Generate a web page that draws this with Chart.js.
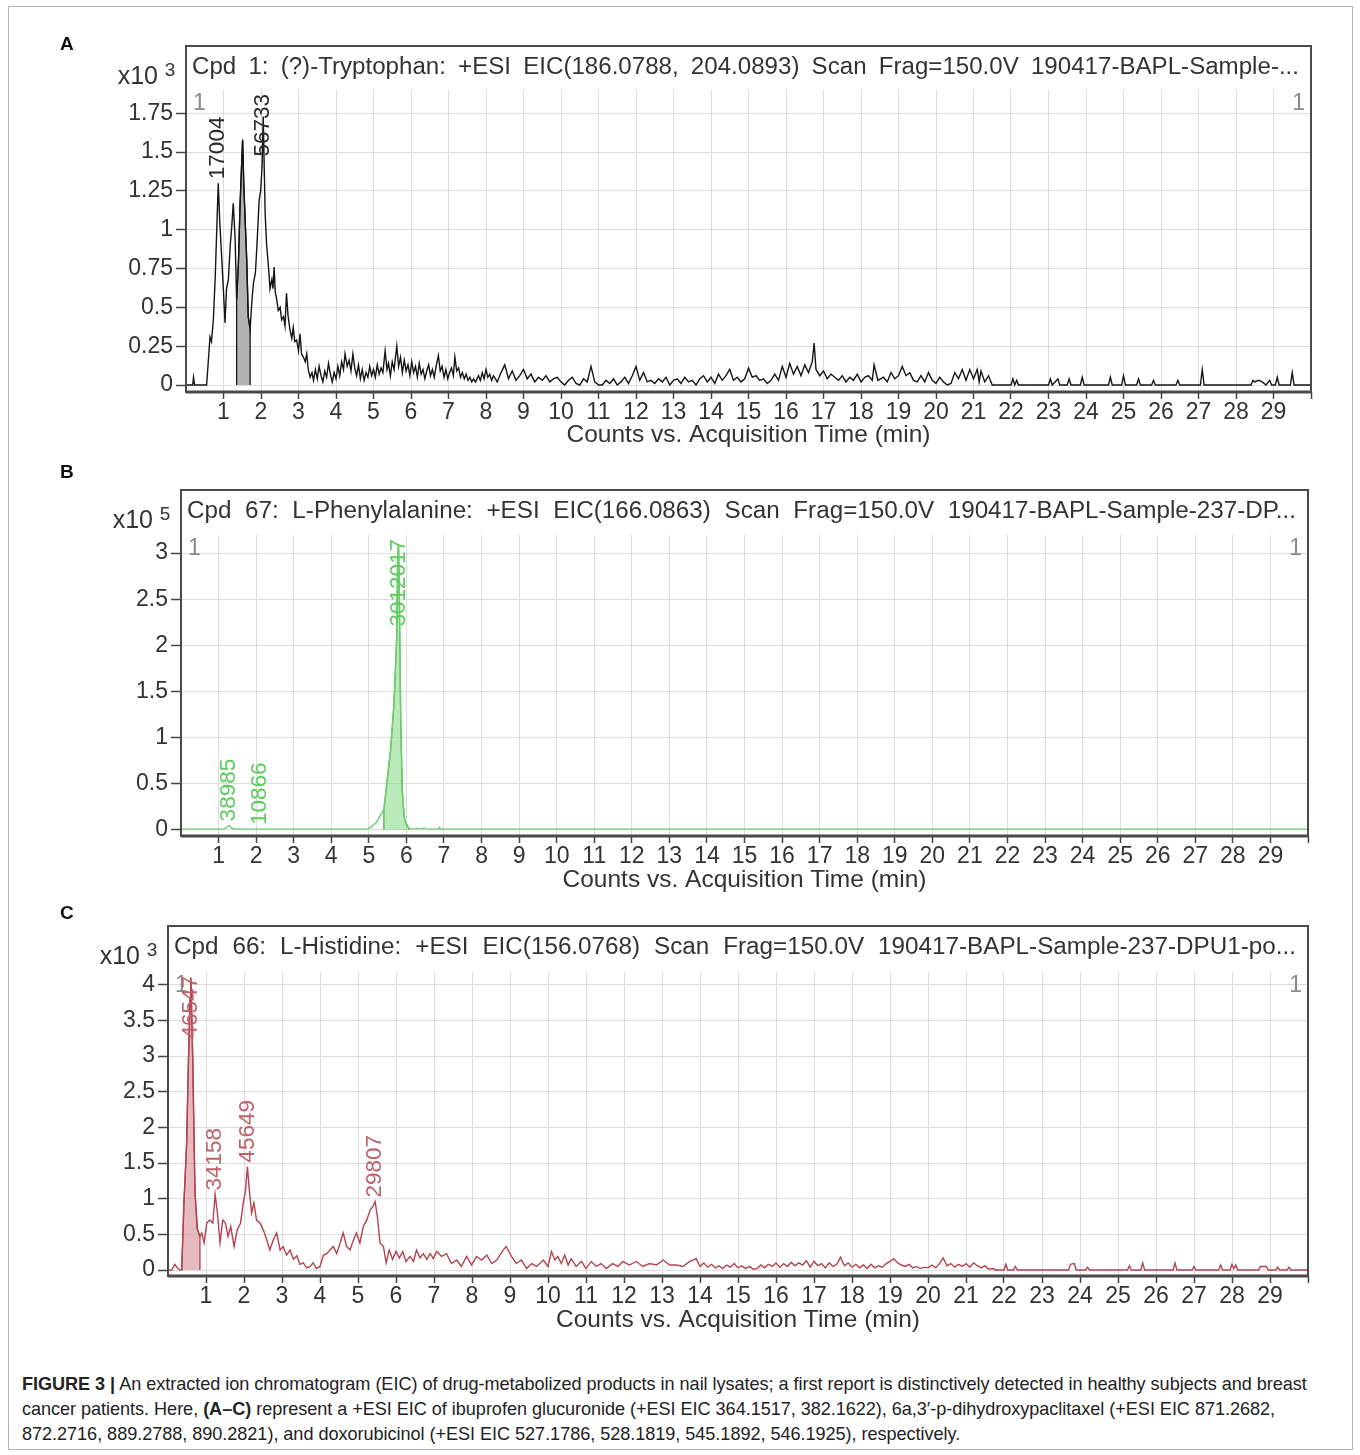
<!DOCTYPE html>
<html>
<head>
<meta charset="utf-8">
<script src="https://cdn.jsdelivr.net/npm/chart.js@4.4.1/dist/chart.umd.min.js"></script>
<style>
body { margin:0; background:#fff; width:1360px; height:1455px; position:relative; overflow:hidden; font-family:"Liberation Sans", Arial, sans-serif; }
#frame { position:absolute; left:8px; top:6px; width:1343px; height:1442px; border:1px solid #b4b4b4; }
canvas { position:absolute; left:0; }
.lbl { position:absolute; font-weight:bold; font-size:19px; color:#111; }
.cap { position:absolute; left:22px; font-size:18.1px; color:#222; white-space:nowrap; letter-spacing:-0.04px; }
</style>
</head>
<body>
<div id="frame"></div>
<canvas id="cA" width="1360" height="455" style="top:0px"></canvas>
<canvas id="cB" width="1360" height="450" style="top:450px"></canvas>
<canvas id="cC" width="1360" height="450" style="top:890px"></canvas>
<div class="lbl" style="left:60px;top:33px">A</div>
<div class="lbl" style="left:60px;top:461px">B</div>
<div class="lbl" style="left:60px;top:902px">C</div>
<div class="cap" style="top:1374px"><b>FIGURE 3 |</b> An extracted ion chromatogram (EIC) of drug-metabolized products in nail lysates; a first report is distinctively detected in healthy subjects and breast</div>
<div class="cap" style="top:1399px">cancer patients. Here, <b>(A–C)</b> represent a +ESI EIC of ibuprofen glucuronide (+ESI EIC 364.1517, 382.1622), 6a,3′-p-dihydroxypaclitaxel (+ESI EIC 871.2682,</div>
<div class="cap" style="top:1424px">872.2716, 889.2788, 890.2821), and doxorubicinol (+ESI EIC 527.1786, 528.1819, 545.1892, 546.1925), respectively.</div>
<script>
const FONT = '"Liberation Sans", Arial, sans-serif';

// x axis ticks (acquisition time, min)
const xTicks = [1,2,3,4,5,6,7,8,9,10,11,12,13,14,15,16,17,18,19,20,21,22,23,24,25,26,27,28,29,30];

// A: tryptophan, counts x10^3, [time, counts]
const titleA = 'Cpd 1: (?)-Tryptophan: +ESI EIC(186.0788, 204.0893) Scan Frag=150.0V 190417-BAPL-Sample-...';
const yTicksA = [0,0.25,0.5,0.75,1,1.25,1.5,1.75];
const traceA = [
  [0,0],[0.18,0],[0.2,0.05],[0.23,0],[0.55,0],[0.64,0.31],[0.68,0.28],[0.73,0.42],[0.78,0.7],[0.82,1.0],
  [0.86,1.3],[0.9,1.05],[0.95,0.83],[1.0,0.6],[1.04,0.4],[1.08,0.62],[1.13,0.68],[1.18,0.9],[1.22,1.02],[1.26,1.17],
  [1.31,0.94],[1.35,0.55],[1.4,0.8],[1.44,1.15],[1.48,1.4],[1.51,1.58],[1.54,1.3],[1.57,1.11],[1.62,0.8],[1.66,0.44],
  [1.71,0.36],[1.76,0.55],[1.8,0.66],[1.85,0.72],[1.89,0.89],[1.95,1.19],[1.99,1.25],[2.03,1.41],[2.06,1.73],[2.09,1.35],
  [2.11,1.11],[2.15,0.9],[2.2,0.76],[2.24,0.62],[2.29,0.68],[2.32,0.62],[2.35,0.76],[2.38,0.6],[2.42,0.55],[2.46,0.48],
  [2.51,0.5],[2.55,0.42],[2.6,0.44],[2.64,0.38],[2.68,0.59],[2.72,0.45],[2.77,0.36],[2.82,0.3],[2.86,0.37],[2.9,0.28],
  [2.95,0.29],[3.0,0.22],[3.04,0.33],[3.08,0.2],[3.13,0.18],[3.18,0.15],[3.22,0.2],[3.26,0.1],[3.31,0.05],[3.36,0.08],
  [3.4,0.03],[3.45,0.1],[3.5,0.04],[3.55,0.12],[3.6,0.06],[3.65,0.02],[3.7,0.09],[3.75,0.05],[3.8,0.14],[3.85,0.07],
  [3.9,0.02],[3.95,0.08],[4.0,0.04],[4.05,0.12],[4.1,0.06],[4.15,0.15],[4.2,0.1],[4.24,0.2],[4.3,0.12],[4.35,0.16],
  [4.4,0.09],[4.45,0.2],[4.5,0.11],[4.55,0.06],[4.6,0.13],[4.65,0.04],[4.7,0.1],[4.75,0.03],[4.8,0.08],[4.85,0.05],
  [4.9,0.12],[4.95,0.06],[5.0,0.1],[5.05,0.05],[5.1,0.13],[5.15,0.07],[5.2,0.11],[5.25,0.08],[5.31,0.22],[5.36,0.1],
  [5.4,0.14],[5.45,0.06],[5.5,0.15],[5.55,0.1],[5.62,0.25],[5.67,0.12],[5.72,0.18],[5.77,0.08],[5.82,0.16],[5.87,0.09],
  [5.92,0.13],[5.97,0.06],[6.02,0.15],[6.07,0.08],[6.12,0.12],[6.17,0.05],[6.22,0.14],[6.27,0.07],[6.32,0.1],[6.37,0.04],
  [6.42,0.09],[6.47,0.13],[6.52,0.06],[6.57,0.1],[6.62,0.05],[6.67,0.12],[6.73,0.19],[6.78,0.09],[6.83,0.12],[6.88,0.05],
  [6.93,0.1],[6.98,0.04],[7.03,0.08],[7.08,0.11],[7.13,0.06],[7.17,0.18],[7.22,0.09],[7.27,0.11],[7.32,0.05],[7.37,0.08],
  [7.42,0.04],[7.47,0.07],[7.52,0.03],[7.57,0.05],[7.62,0.02],[7.67,0.04],[7.72,0.02],[7.8,0.06],[7.85,0.03],[7.9,0.08],
  [7.95,0.04],[8.0,0.1],[8.05,0.05],[8.1,0.07],[8.15,0.03],[8.2,0.06],[8.3,0.02],[8.4,0.08],[8.5,0.13],[8.6,0.04],
  [8.7,0.09],[8.8,0.03],[8.9,0.06],[9.0,0.1],[9.1,0.04],[9.2,0.07],[9.3,0.02],[9.4,0.05],[9.5,0.03],[9.6,0.06],
  [9.7,0.02],[9.8,0.04],[9.9,0.05],[10.0,0.02],[10.1,0.0],[10.2,0.03],[10.3,0.05],[10.4,0.01],[10.5,0.0],[10.6,0.04],
  [10.7,0.02],[10.8,0.12],[10.9,0.02],[11.0,0.0],[11.1,0.0],[11.2,0.03],[11.3,0.01],[11.4,0.04],[11.5,0.0],[11.6,0.02],
  [11.7,0.05],[11.8,0.01],[11.9,0.06],[12.0,0.12],[12.1,0.03],[12.2,0.08],[12.3,0.02],[12.4,0.03],[12.5,0.01],[12.6,0.04],
  [12.7,0.02],[12.8,0.05],[12.9,0.0],[13.0,0.03],[13.1,0.04],[13.2,0.01],[13.3,0.05],[13.4,0.02],[13.5,0.03],[13.6,0.0],
  [13.7,0.04],[13.8,0.06],[13.9,0.02],[14.0,0.05],[14.1,0.01],[14.2,0.07],[14.3,0.03],[14.4,0.06],[14.5,0.1],[14.6,0.03],
  [14.7,0.05],[14.8,0.02],[14.9,0.04],[15.0,0.11],[15.1,0.05],[15.2,0.06],[15.3,0.03],[15.4,0.04],[15.5,0.01],[15.6,0.03],
  [15.7,0.07],[15.8,0.03],[15.9,0.12],[16.0,0.05],[16.1,0.14],[16.2,0.07],[16.3,0.12],[16.4,0.06],[16.5,0.13],[16.6,0.08],
  [16.7,0.15],[16.75,0.27],[16.8,0.1],[16.9,0.06],[17.0,0.09],[17.1,0.04],[17.2,0.07],[17.3,0.05],[17.4,0.03],[17.5,0.06],
  [17.6,0.02],[17.7,0.05],[17.8,0.03],[17.9,0.07],[18.0,0.02],[18.1,0.05],[18.2,0.06],[18.3,0.03],[18.35,0.13],[18.45,0.03],
  [18.6,0.05],[18.7,0.02],[18.8,0.08],[18.9,0.04],[19.0,0.06],[19.1,0.12],[19.2,0.06],[19.3,0.08],[19.4,0.03],[19.5,0.02],
  [19.6,0.06],[19.7,0.02],[19.8,0.08],[19.9,0.03],[20.0,0.01],[20.1,0.05],[20.2,0.02],[20.3,0.0],[20.4,0.01],[20.5,0.08],
  [20.6,0.04],[20.7,0.1],[20.8,0.03],[20.9,0.1],[21.0,0.04],[21.1,0.1],[21.15,0.02],[21.2,0.09],[21.3,0.02],[21.4,0.06],
  [21.5,0.0],[22.0,0.0],[22.05,0.04],[22.1,0.0],[22.15,0.03],[22.2,0.0],[23.0,0.0],[23.05,0.04],[23.1,0.0],[23.25,0.04],
  [23.3,0.0],[23.5,0.0],[23.55,0.04],[23.6,0.0],[23.85,0.0],[23.9,0.05],[23.95,0.0],[24.6,0.0],[24.65,0.05],[24.7,0.0],
  [24.95,0.0],[25.0,0.06],[25.05,0.0],[25.35,0.0],[25.4,0.04],[25.45,0.0],[25.75,0.0],[25.8,0.03],[25.85,0.0],[26.4,0.0],
  [26.45,0.03],[26.5,0.0],[27.05,0.0],[27.1,0.1],[27.15,0.0],[28.4,0.0],[28.45,0.03],[28.5,0.02],[28.6,0.03],[28.7,0.02],
  [28.8,0.0],[28.9,0.03],[28.95,0.0],[29.05,0.0],[29.1,0.05],[29.15,0.0],[29.45,0.0],[29.5,0.08],[29.55,0.0],[30,0.0]
];
const integA = [1.35, 1.71];
const peakTimesA = [0.86, 2.06];
const peakHeightsA = [1.3, 1.73];
const peakLabelsA = ['17004', '56733'];

// B: phenylalanine, counts x10^5
const titleB = 'Cpd 67: L-Phenylalanine: +ESI EIC(166.0863) Scan Frag=150.0V 190417-BAPL-Sample-237-DP...';
const yTicksB = [0,0.5,1,1.5,2,2.5,3];
const traceB = [
  [0,0.01],[1.15,0.01],[1.22,0.03],[1.28,0.05],[1.34,0.02],[1.45,0.01],[4.95,0.01],[5.05,0.03],[5.2,0.08],[5.31,0.16],
  [5.4,0.22],[5.49,0.54],[5.58,0.87],[5.67,1.37],[5.74,2.06],[5.77,3.0],[5.79,3.08],[5.81,2.6],[5.85,1.16],[5.89,0.43],
  [5.94,0.15],[5.98,0.08],[6.06,0.02],[6.2,0.01],[6.3,0.02],[6.38,0.01],[6.48,0.02],[6.56,0.01],[6.85,0.01],[6.88,0.03],
  [6.92,0.01],[30,0.01]
];
const integB = [5.4, 6.06];
const peakTimesB = [1.28, 2.1, 5.79];
const peakHeightsB = [0.05, 0.01, 3.08];
const peakLabelsB = ['38985', '10866', '3012017'];

// C: histidine, counts x10^3
const titleC = 'Cpd 66: L-Histidine: +ESI EIC(156.0768) Scan Frag=150.0V 190417-BAPL-Sample-237-DPU1-po...';
const yTicksC = [0,0.5,1,1.5,2,2.5,3,3.5,4];
const traceC = [
  [0,0],[0.1,0],[0.18,0.08],[0.26,0.02],[0.32,0],[0.36,0],[0.42,0.95],[0.49,1.77],[0.54,2.98],[0.58,3.8],
  [0.6,4.1],[0.62,3.7],[0.65,2.98],[0.71,1.1],[0.77,0.58],[0.84,0.47],[0.89,0.52],[0.95,0.38],[1.02,0.66],[1.1,0.7],
  [1.18,0.66],[1.24,1.06],[1.3,0.8],[1.37,0.38],[1.44,0.7],[1.51,0.66],[1.58,0.47],[1.65,0.61],[1.74,0.33],[1.82,0.56],
  [1.91,0.66],[1.98,0.94],[2.04,1.12],[2.09,1.45],[2.14,1.12],[2.2,0.8],[2.26,0.94],[2.33,0.7],[2.42,0.66],[2.51,0.56],
  [2.6,0.42],[2.68,0.28],[2.77,0.42],[2.86,0.52],[2.95,0.28],[3.03,0.33],[3.12,0.21],[3.21,0.28],[3.3,0.15],[3.39,0.2],
  [3.47,0.08],[3.56,0.1],[3.65,0.03],[3.74,0.05],[3.82,0.1],[3.91,0.02],[4.0,0.05],[4.09,0.21],[4.18,0.23],[4.26,0.28],
  [4.35,0.33],[4.44,0.23],[4.53,0.38],[4.61,0.52],[4.7,0.33],[4.79,0.28],[4.88,0.42],[4.96,0.52],[5.05,0.38],[5.14,0.61],
  [5.23,0.7],[5.32,0.84],[5.39,0.89],[5.45,0.96],[5.51,0.75],[5.58,0.38],[5.67,0.33],[5.74,0.1],[5.82,0.28],[5.91,0.15],
  [6.0,0.26],[6.09,0.17],[6.18,0.26],[6.26,0.12],[6.37,0.19],[6.46,0.12],[6.54,0.28],[6.63,0.17],[6.72,0.23],[6.81,0.15],
  [6.9,0.23],[6.98,0.16],[7.07,0.26],[7.2,0.19],[7.33,0.23],[7.46,0.09],[7.6,0.14],[7.72,0.05],[7.86,0.19],[7.99,0.07],
  [8.12,0.19],[8.25,0.14],[8.39,0.21],[8.52,0.09],[8.65,0.14],[8.82,0.28],[8.9,0.33],[9.04,0.19],[9.17,0.09],[9.3,0.14],
  [9.44,0.02],[9.57,0.09],[9.7,0.05],[9.88,0.14],[10.0,0.05],[10.09,0.26],[10.18,0.14],[10.26,0.19],[10.35,0.09],[10.44,0.21],
  [10.53,0.07],[10.61,0.16],[10.74,0.05],[10.88,0.12],[11.0,0.02],[11.14,0.12],[11.27,0.05],[11.4,0.09],[11.53,0.02],[11.7,0.09],
  [11.84,0.05],[11.97,0.12],[12.14,0.07],[12.32,0.12],[12.5,0.05],[12.67,0.09],[12.85,0.07],[13.03,0.14],[13.2,0.07],[13.38,0.07],
  [13.55,0.05],[13.73,0.12],[13.9,0.16],[14.0,0.05],[14.1,0.1],[14.2,0.04],[14.3,0.08],[14.4,0.03],[14.5,0.06],[14.6,0.02],
  [14.7,0.07],[14.8,0.04],[14.9,0.09],[15.0,0.03],[15.1,0.06],[15.2,0.02],[15.3,0.05],[15.4,0.01],[15.5,0.02],[15.6,0.07],
  [15.7,0.03],[15.8,0.08],[15.9,0.05],[16.0,0.1],[16.1,0.04],[16.2,0.09],[16.3,0.05],[16.4,0.11],[16.5,0.06],[16.6,0.1],
  [16.7,0.07],[16.8,0.13],[16.9,0.04],[17.0,0.12],[17.1,0.06],[17.2,0.09],[17.3,0.03],[17.4,0.1],[17.5,0.05],[17.6,0.08],
  [17.7,0.18],[17.8,0.06],[17.9,0.1],[18.0,0.04],[18.1,0.08],[18.2,0.03],[18.3,0.07],[18.4,0.02],[18.5,0.08],[18.6,0.03],
  [18.7,0.06],[18.8,0.04],[18.9,0.09],[19.0,0.12],[19.1,0.16],[19.2,0.1],[19.3,0.07],[19.4,0.05],[19.5,0.08],[19.6,0.03],
  [19.7,0.05],[19.8,0.02],[19.9,0.04],[20.0,0.03],[20.1,0.07],[20.2,0.03],[20.3,0.09],[20.4,0.17],[20.5,0.06],[20.6,0.09],
  [20.7,0.04],[20.8,0.08],[20.9,0.05],[21.0,0.09],[21.1,0.04],[21.2,0.1],[21.3,0.06],[21.4,0.03],[21.5,0.06],[21.6,0.01],
  [21.7,0.02],[21.8,0.0],[22.0,0.0],[22.05,0.08],[22.1,0.0],[22.25,0.0],[22.3,0.05],[22.35,0.0],[23.7,0.0],[23.75,0.08],
  [23.85,0.09],[23.9,0.0],[24.15,0.0],[24.2,0.04],[24.25,0.0],[25.25,0.0],[25.3,0.06],[25.35,0.0],[25.6,0.0],[25.65,0.1],
  [25.7,0.0],[26.45,0.0],[26.5,0.1],[26.55,0.0],[26.95,0.0],[27.0,0.05],[27.05,0.0],[27.65,0.0],[27.7,0.07],[27.75,0.0],
  [27.95,0.0],[28.0,0.08],[28.05,0.02],[28.1,0.07],[28.15,0.0],[28.7,0.0],[28.75,0.05],[28.9,0.05],[28.95,0.0],[29.15,0.0],
  [29.2,0.04],[29.25,0.0],[29.45,0.0],[29.5,0.04],[29.55,0.0],[30,0.0]
];
const integC = [0.36, 0.84];
const peakTimesC = [0.6, 1.24, 2.09, 5.45];
const peakHeightsC = [4.1, 1.06, 1.45, 0.96];
const peakLabelsC = ['46547', '34158', '45649', '29807'];

function panel(id, o) {
  const pts = o.trace.map(p => ({x: p[0], y: p[1]}));
  const inner = pts.filter(p => p.x >= o.integ[0] && p.x <= o.integ[1]);
  const areaPts = [{x: o.integ[0], y: 0}].concat(inner, [{x: o.integ[1], y: 0}]);

  const decor = {
    id: 'decor',
    afterDraw(chart) {
      const ctx = chart.ctx, a = chart.chartArea;
      const xs = chart.scales.x, ys = chart.scales.y;
      const frameTop = a.top - o.strip;
      ctx.save();
      // title strip text: a little extra word spacing, the rest by stretching
      ctx.font = '23px ' + FONT;
      ctx.fillStyle = '#333';
      ctx.textBaseline = 'middle';
      ctx.textAlign = 'left';
      const target = a.right - a.left - 18;
      let w = ctx.measureText(o.title).width;
      const spaces = o.title.split(' ').length - 1;
      if ('wordSpacing' in ctx && w < target) {
        ctx.wordSpacing = (0.45 * (target - w) / spaces) + 'px';
        w = ctx.measureText(o.title).width;
      }
      ctx.save();
      ctx.translate(a.left + 6, frameTop + 22);
      ctx.scale(target / w, 1);
      ctx.fillText(o.title, 0, 0);
      ctx.restore();
      if ('wordSpacing' in ctx) ctx.wordSpacing = '0px';

      // frame
      ctx.strokeStyle = '#4a4a4a';
      ctx.lineWidth = 2;
      ctx.strokeRect(a.left, frameTop, a.right - a.left, a.bottom - frameTop);
      ctx.lineWidth = 3;
      ctx.beginPath();
      ctx.moveTo(a.left, a.bottom);
      ctx.lineTo(a.right + 1, a.bottom);
      ctx.stroke();

      // exponent
      ctx.fillStyle = '#333';
      ctx.textAlign = 'right';
      ctx.font = '25px ' + FONT;
      ctx.fillText('x10', a.left - 28, frameTop + 31);
      ctx.textAlign = 'center';
      ctx.font = '19px ' + FONT;
      ctx.fillText(String(o.exp), a.left - 16, frameTop + 25);

      // "1" markers
      ctx.fillStyle = '#8a8a8a';
      ctx.font = '23px ' + FONT;
      ctx.textAlign = 'left';
      ctx.fillText('1', a.left + 7, a.top + 14);
      ctx.textAlign = 'right';
      ctx.fillText('1', a.right - 6, a.top + 14);

      // peak labels, read upwards from just above the apex, kept inside the plot
      ctx.fillStyle = o.labelColor;
      ctx.font = '22.5px ' + FONT;
      o.peaks.forEach((t, i) => {
        const px = xs.getPixelForValue(t);
        const py = ys.getPixelForValue(o.heights[i]);
        const tw = ctx.measureText(o.labels[i]).width;
        const by = Math.max(py - 4, a.top + tw + 4);
        ctx.save();
        ctx.translate(px, by);
        ctx.rotate(-Math.PI / 2);
        ctx.textAlign = 'left';
        ctx.textBaseline = 'middle';
        ctx.fillText(o.labels[i], 0, 0);
        ctx.restore();
      });
      ctx.restore();
    }
  };

  new Chart(document.getElementById(id), {
    type: 'line',
    data: {
      datasets: [
        {data: pts, borderColor: o.line, borderWidth: 1.4, pointRadius: 0, tension: 0, fill: false, order: 1},
        {data: areaPts, borderColor: o.edge, backgroundColor: o.fill, borderWidth: 1.3, pointRadius: 0, tension: 0, fill: 'origin', order: 2}
      ]
    },
    options: {
      responsive: false,
      animation: false,
      events: [],
      layout: {padding: {top: o.top, right: o.right, left: 0, bottom: 0}},
      plugins: {legend: {display: false}, tooltip: {enabled: false}},
      scales: {
        x: {
          type: 'linear', min: 0, max: 30,
          afterBuildTicks: s => { s.ticks = xTicks.map(v => ({value: v})); },
          afterFit: s => { s.height = o.xh; },
          ticks: {autoSkip: false, maxRotation: 0, minRotation: 0, padding: 0, color: '#333',
                  font: {size: 23, family: FONT}, callback: v => (v < 30 ? String(v) : '')},
          grid: {color: '#dddddd', lineWidth: 1, tickColor: '#444', tickLength: 7, tickWidth: 1.5},
          border: {display: false},
          title: {display: true, text: 'Counts vs. Acquisition Time (min)', color: '#333',
                  font: {size: 24.5, family: FONT}, padding: {top: 0, bottom: 5}}
        },
        y: {
          type: 'linear', min: o.ymin, max: o.ymax,
          afterBuildTicks: s => { s.ticks = o.yticks.map(v => ({value: v})); },
          afterFit: s => { s.width = o.left; },
          ticks: {padding: 3, color: '#333', font: {size: 23, family: FONT}, callback: v => String(v)},
          grid: {color: '#dddddd', lineWidth: 1, tickColor: '#444', tickLength: 10, tickWidth: 1.5},
          border: {display: false}
        }
      }
    },
    plugins: [decor]
  });
}

panel('cA', {
  trace: traceA, integ: integA, peaks: peakTimesA, heights: peakHeightsA, labels: peakLabelsA,
  title: titleA, yticks: yTicksA, exp: 3, ymin: -0.045, ymax: 1.9,
  left: 186, right: 49, top: 90, strip: 44, xh: 63,
  line: '#151515', edge: '#151515', fill: '#b3b3b3', labelColor: '#2a2a2a'
});
panel('cB', {
  trace: traceB, integ: integB, peaks: peakTimesB, heights: peakHeightsB, labels: peakLabelsB,
  title: titleB, yticks: yTicksB, exp: 5, ymin: -0.065, ymax: 3.195,
  left: 181, right: 52, top: 85, strip: 45, xh: 64,
  line: '#6ccd6c', edge: '#4fb54f', fill: 'rgba(140,220,140,0.6)', labelColor: '#5ccc5c'
});
panel('cC', {
  trace: traceC, integ: integC, peaks: peakTimesC, heights: peakHeightsC, labels: peakLabelsC,
  title: titleC, yticks: yTicksC, exp: 3, ymin: -0.084, ymax: 4.18,
  left: 168, right: 52, top: 82, strip: 46, xh: 64,
  line: '#b3434d', edge: '#b3434d', fill: 'rgba(214,140,146,0.6)', labelColor: '#c0616b'
});
</script>
</body>
</html>
